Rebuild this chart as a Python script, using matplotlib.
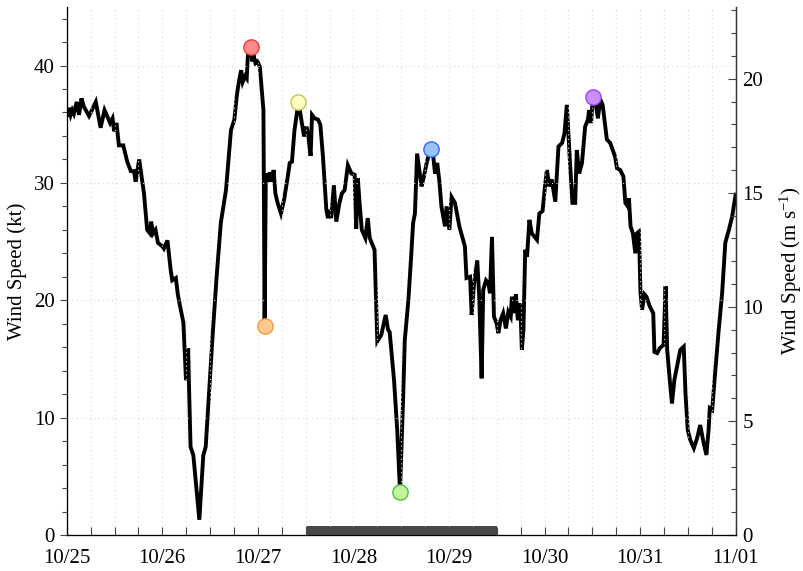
import numpy as np
import pandas as pd
import matplotlib
matplotlib.use("Agg")
import matplotlib.pyplot as plt
import matplotlib.dates as mdates
from matplotlib.ticker import MultipleLocator

plt.rcParams['font.family'] = ['Liberation Serif', 'DejaVu Serif']
plt.rcParams['mathtext.fontset'] = 'custom'
plt.rcParams['mathtext.rm'] = 'Liberation Serif'
plt.rcParams['mathtext.it'] = 'Liberation Serif:italic'

start = pd.Timestamp('2012-10-25 00:00')

# hours after 10/25 00:00 and wind speed in knots
hours = [0.2, 0.6, 1.0, 1.4, 1.8, 2.5, 3.1, 3.7, 4.3, 5.6, 7.3, 8.5, 9.5, 10.4,
         10.9, 11.5, 11.9, 12.5, 13.1, 14.2, 15.2, 16.1, 16.9, 17.3, 18.2, 18.7,
         19.4, 20.2, 20.9, 21.2, 21.7, 22.3, 22.9, 24.0, 24.4, 25.3, 26.1, 26.5,
         27.4, 27.9, 28.4, 29.3, 29.95, 30.2, 30.5, 30.65, 31.1, 31.8, 33.3,
         34.3, 34.9, 35.8, 36.6, 37.6, 38.7, 40.0, 41.25, 42.1, 42.7, 43.0, 43.5,
         43.8, 44.2, 44.8, 45.2, 45.5, 46.2, 46.6, 46.9, 47.4, 47.9, 48.5, 49.4,
         49.7, 50.0, 50.45, 51.0, 51.5, 51.96, 52.4, 52.96, 53.8, 54.6, 55.5,
         56.0, 56.56, 57.2, 58.2, 58.9, 59.6, 60.2, 60.6, 61.25, 61.6, 62.25,
         63.1, 63.7, 64.35, 65.2, 65.6, 66.0, 66.4, 67.1, 67.7, 68.5, 69.1, 69.8,
         70.6, 71.5, 72.3, 72.7, 73.1, 73.55, 74.1, 75.0, 75.6, 76.1, 77.3, 78.0,
         79.0, 80.1, 80.7, 81.1, 82.2, 83.0, 83.7, 84.5, 84.9, 85.8, 86.4, 87.0,
         87.45, 88.0, 89.1, 89.7, 90.4, 90.8, 91.6, 92.05, 92.5, 93.05, 93.6,
         94.1, 95.0, 95.4, 96.1, 96.65, 97.5, 98.6, 100.0, 100.4, 101.3, 101.7,
         102.3, 103.1, 103.6, 104.2, 104.6, 105.3, 105.9, 106.3, 106.8, 107.3,
         107.95, 108.4, 108.95, 109.6, 110.3, 110.9, 111.5, 111.8, 112.2, 112.8,
         113.3, 113.9, 114.3, 114.7, 115.15, 115.6, 116.2, 116.8, 118.1, 118.7,
         119.5, 120.2, 120.6, 121.2, 121.8, 122.7, 123.5, 124.4, 125.0, 125.6,
         126.4, 127.0, 127.7, 128.1, 128.7, 129.4, 130.2, 130.9, 131.2, 131.7,
         132.1, 132.7, 133.4, 134.0, 134.6, 135.65, 136.5, 137.7, 138.2, 139.0,
         139.8, 140.3, 140.9, 141.2, 141.6, 142.2, 142.8, 143.2, 143.7, 144.1,
         144.5, 145.1, 145.6, 146.4, 147.3, 147.6, 148.3, 148.9, 149.9, 150.4,
         150.8, 151.45, 152.0, 152.6, 153.1, 154.1, 154.96, 155.4, 155.96, 156.6,
         157.5, 158.3, 159.1, 159.8, 160.65, 161.2, 161.5, 162.1, 162.9, 163.75,
         164.6, 165.4, 166.3, 167.1, 168.0]
speed_kt = [35.8, 36.4, 35.8, 36.2, 35.9, 36.9, 35.8, 37.2, 36.5, 35.7, 36.9,
            34.7, 36.2, 35.5, 35.1, 35.5, 34.4, 35.1, 33.2, 33.2, 31.8, 31.0,
            31.0, 30.1, 32.0, 30.8, 29.1, 26.0, 25.7, 26.7, 25.7, 26.0, 24.9,
            24.6, 24.4, 25.1, 22.6, 21.7, 21.9, 20.5, 19.6, 18.1, 13.2, 13.4,
            15.9, 13.5, 7.5, 6.8, 1.3, 6.8, 7.5, 12.5, 16.8, 21.8, 26.6, 29.4,
            34.5, 35.4, 37.4, 38.1, 39.1, 39.6, 38.6, 39.1, 38.9, 40.9, 41.6,
            40.35, 40.9, 40.2, 40.35, 39.9, 36.2, 17.8, 30.8, 30.1, 30.9, 30.1,
            31.1, 29.1, 28.3, 27.4, 28.6, 30.5, 31.7, 31.8, 34.5, 36.9, 35.4,
            33.96, 34.8, 34.2, 32.3, 35.8, 35.5, 35.4, 34.95, 32.25, 27.7, 27.0,
            27.7, 27.0, 29.8, 26.7, 28.3, 29.1, 29.4, 31.5, 30.8, 30.7, 26.1,
            30.4, 28.3, 26.0, 25.3, 27.0, 25.3, 24.3, 16.5, 17.05, 18.75, 17.5,
            17.3, 13.2, 8.95, 3.7, 11.8, 16.6, 20.0, 23.2, 26.6, 27.4, 32.5,
            29.7, 30.55, 31.7, 32.25, 32.9, 32.25, 30.8, 31.7, 30.1, 28.0, 26.3,
            28.0, 26.0, 28.8, 28.3, 26.3, 24.6, 21.9, 22.0, 18.75, 21.45, 23.4,
            20.3, 13.35, 20.9, 21.7, 21.45, 20.6, 25.4, 18.6, 18.05, 17.2, 18.3,
            18.9, 17.6, 19.0, 18.6, 20.3, 18.9, 20.5, 18.3, 19.75, 15.8, 17.5,
            24.3, 23.7, 26.85, 25.7, 25.15, 27.4, 27.6, 30.0, 31.1, 29.7, 30.3,
            28.4, 33.1, 33.4, 34.2, 36.65, 31.7, 28.3, 28.3, 32.8, 30.8, 31.7,
            34.8, 35.4, 36.2, 35.1, 37.3, 37.1, 35.5, 37.1, 36.65, 33.7, 33.4,
            32.25, 31.25, 31.1, 30.55, 28.3, 28.0, 28.7, 26.3, 25.7, 24.0, 25.7,
            25.85, 20.6, 19.2, 20.5, 20.3, 19.5, 18.9, 15.6, 15.5, 15.9, 16.2,
            21.2, 15.8, 13.2, 11.2, 13.2, 14.06, 15.77, 16.05, 12.08, 8.95, 8.1,
            7.4, 8.24, 9.37, 8.1, 6.82, 8.95, 10.8, 10.65, 14.06, 17.5, 20.6,
            24.9, 26.0, 27.1, 29.0]

# highlighted extremes (hours, kt)
event_hours = [46.2, 49.7, 58.2, 83.7, 91.6, 132.1]
event_kt = [41.6, 17.8, 36.9, 3.7, 32.9, 37.3]
event_face = ['#ff8a8a', '#ffc98f', '#ffffc2', '#c4f59a', '#96c3ff', '#c890ff']
event_edge = ['#e83a3a', '#f09a3c', '#c4c45a', '#4fbf3f', '#3a64f0', '#a044f0']

# shaded period along the time axis
period_start_h = 60
period_len_h = 48

KT_TO_MS = 0.514444

times = start + pd.to_timedelta(hours, unit='h')
ev_times = start + pd.to_timedelta(event_hours, unit='h')

fig = plt.figure(figsize=(8.04, 5.71), dpi=100)
ax = fig.add_axes([0.083, 0.063, 0.832, 0.925])

ax.plot(times, speed_kt, color='black', lw=2.8, zorder=2, solid_joinstyle='miter')
for t, v, fc, ec in zip(ev_times, event_kt, event_face, event_edge):
    ax.plot([t], [v], 'o', ms=11, mfc=fc, mec=ec, mew=1.0, zorder=5)

ax.broken_barh([(mdates.date2num(start + pd.Timedelta(hours=period_start_h)),
                 period_len_h / 24.0)], (0, 0.78), facecolors='#474747', zorder=1.5)

ax.set_xlim(start, start + pd.Timedelta(days=7))
ax.set_ylim(0, 45)
ax.xaxis.set_major_locator(mdates.DayLocator())
ax.xaxis.set_minor_locator(mdates.HourLocator(byhour=[6, 12, 18]))
ax.xaxis.set_major_formatter(mdates.DateFormatter('%m/%d'))
ax.yaxis.set_major_locator(MultipleLocator(10))
ax.yaxis.set_minor_locator(MultipleLocator(2))

ax.set_axisbelow(False)
ax.grid(True, which='both', axis='x', color='#d8d8d8', ls=(0, (1, 3)), lw=0.8)
ax.grid(True, which='major', axis='y', color='#d8d8d8', ls=(0, (1, 3)), lw=0.8)

ax.tick_params(axis='x', which='both', direction='in', length=6, width=0.8,
               color='#444444', labelsize=15, pad=10)
ax.tick_params(axis='y', which='major', direction='out', length=5, width=0.8,
               color='#444444', labelsize=15)
ax.tick_params(axis='y', which='minor', direction='out', length=3.5, width=0.8,
               color='#444444')
ax.set_ylabel('Wind Speed (kt)', fontsize=15, labelpad=5)

for side in ['left', 'bottom', 'right']:
    ax.spines[side].set_color('#333333')
    ax.spines[side].set_linewidth(0.9)
ax.spines['top'].set_visible(False)

ax2 = ax.twinx()
ax2.set_ylim(0, 45 * KT_TO_MS)
ax2.yaxis.set_major_locator(MultipleLocator(5))
ax2.yaxis.set_minor_locator(MultipleLocator(1))
ax2.tick_params(axis='y', which='major', direction='in', length=6, width=0.8,
                color='#444444', labelsize=15, pad=5)
ax2.tick_params(axis='y', which='minor', direction='in', length=3.5, width=0.8,
                color='#444444')
ax2.set_ylabel(r'Wind Speed (m s$^{-1}$)', fontsize=15, labelpad=10)
ax2.spines['top'].set_visible(False)
ax2.spines['right'].set_color('#333333')
ax2.spines['right'].set_linewidth(0.9)

fig.savefig('out.png', dpi=100)
